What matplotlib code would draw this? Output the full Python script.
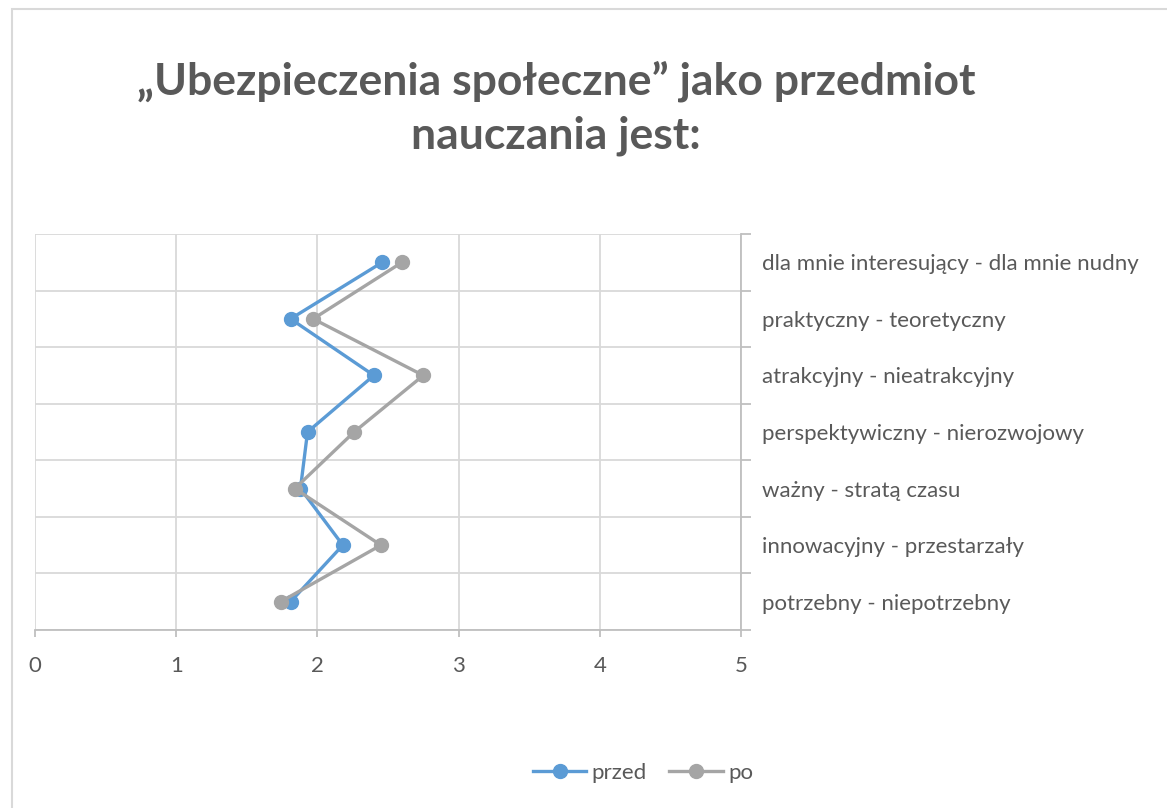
import matplotlib
matplotlib.use("Agg")
import matplotlib.pyplot as plt
from matplotlib.patches import Rectangle
from matplotlib.lines import Line2D

categories = [
    "dla mnie interesujący - dla mnie nudny",
    "praktyczny - teoretyczny",
    "atrakcyjny - nieatrakcyjny",
    "perspektywiczny - nierozwojowy",
    "ważny - stratą czasu",
    "innowacyjny - przestarzały",
    "potrzebny - niepotrzebny",
]
przed = [2.46, 1.81, 2.40, 1.93, 1.88, 2.18, 1.81]
po = [2.60, 1.97, 2.75, 2.26, 1.84, 2.45, 1.74]
x_ticks = [0, 1, 2, 3, 4, 5]
title = "„Ubezpieczenia społeczne” jako przedmiot\nnauczania jest:"

W, H = 1167, 808
fig = plt.figure(figsize=(W / 100, H / 100), dpi=100)
plt.rcParams['font.family'] = ['Lato', 'DejaVu Sans']
txt = '#595959'
grid = '#D9D9D9'
axc = '#BFBFBF'
blue = '#5B9BD5'
gray = '#A5A5A5'

# outer border
fig.patches.append(Rectangle((12 / W, -0.01), 1.02, 1 - 9 / H + 0.01, transform=fig.transFigure,
                             fill=False, edgecolor=grid, linewidth=1.5))

left, right, top, bottom = 35, 741, 234, 630
ax = fig.add_axes([left / W, 1 - bottom / H, (right - left) / W, (bottom - top) / H])
n = len(categories)
ypos = [n - 0.5 - i for i in range(n)]
ax.set_xlim(0, 5)
ax.set_ylim(0, n)

for xv in x_ticks:
    ax.axvline(xv, color=grid, lw=1.3, zorder=0)
for k in range(n + 1):
    ax.axhline(k, color=grid, lw=1.3, zorder=0)

ax.plot(przed, ypos, color=blue, lw=2.4, marker='o', ms=10, zorder=3, label='przed')
ax.plot(po, ypos, color=gray, lw=2.4, marker='o', ms=10, zorder=4, label='po')

for s in ['top', 'left']:
    ax.spines[s].set_visible(False)
ax.spines['bottom'].set_color(axc)
ax.spines['bottom'].set_linewidth(1.3)
ax.spines['right'].set_color(axc)
ax.spines['right'].set_linewidth(1.3)

ax.set_xticks(x_ticks)
ax.set_xticklabels([str(v) for v in x_ticks])
ax.tick_params(axis='x', colors=axc, labelcolor=txt, labelsize=16, length=5, width=1.3, pad=14)

ax.yaxis.tick_right()
ax.set_yticks(range(n + 1))
ax.set_yticklabels([])
ax.tick_params(axis='y', which='major', colors=axc, length=7, width=1.3)
ax.set_yticks(ypos, minor=True)
ax.set_yticklabels(categories, minor=True)
ax.tick_params(axis='y', which='minor', length=0, labelcolor=txt, labelsize=16, pad=15)

fig.text(556 / W, 1 - 108 / H, title, ha='center', va='center', fontsize=32, fontweight='bold',
         color=txt, linespacing=1.4)

handles = [Line2D([], [], color=blue, lw=2.4, marker='o', ms=10),
           Line2D([], [], color=gray, lw=2.4, marker='o', ms=10)]
fig.legend(handles, ['przed', 'po'], loc='center', bbox_to_anchor=(643 / W, 1 - 773 / H), ncol=2,
           frameon=False, fontsize=16, labelcolor=txt, handlelength=2.4, columnspacing=1.0,
           handletextpad=0.25)

fig.savefig('out.png', dpi=100)
